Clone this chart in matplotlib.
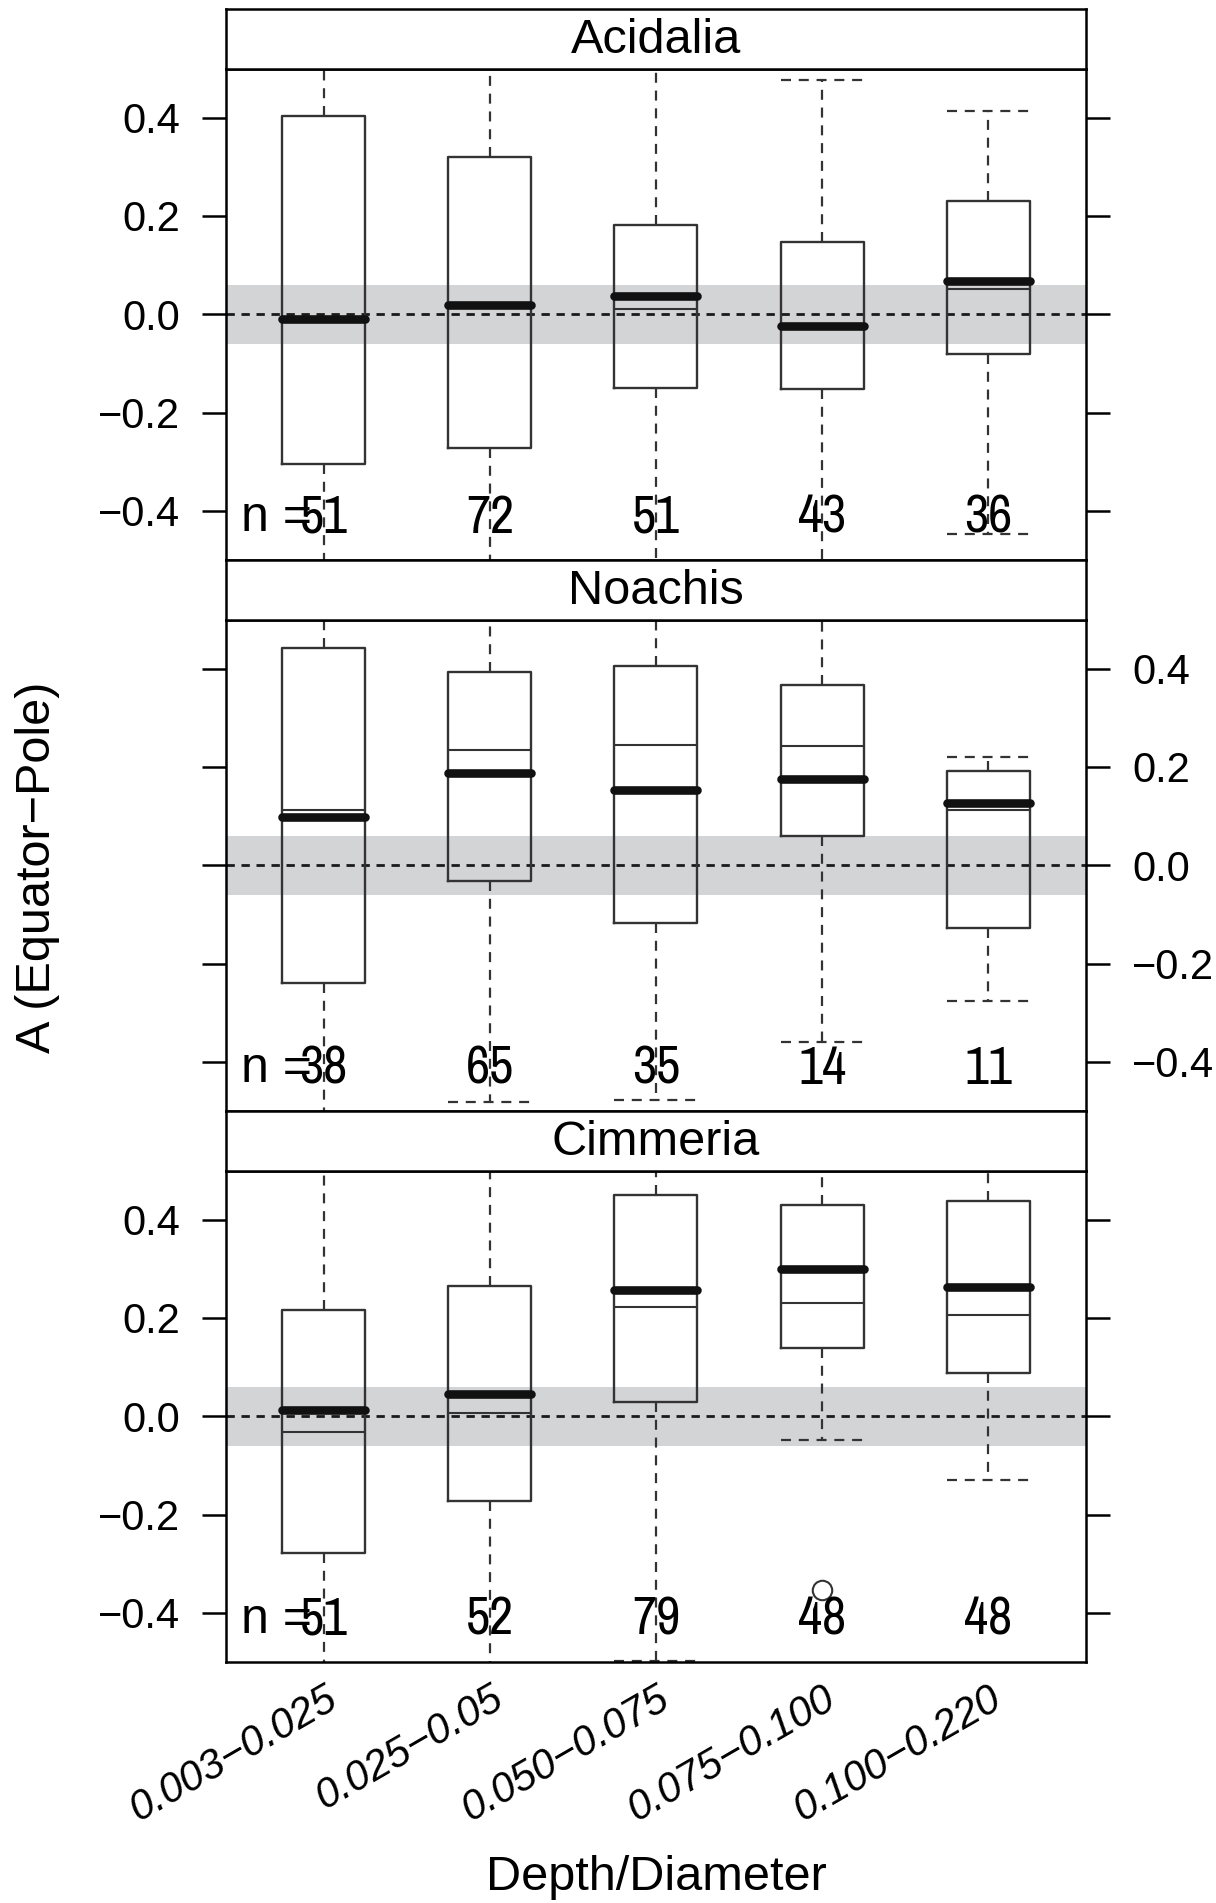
import numpy as np
import matplotlib
matplotlib.use("Agg")
import matplotlib.pyplot as plt
from matplotlib import font_manager

plt.rcParams['font.family'] = ['Liberation Sans', 'DejaVu Sans']

# categories and panel names
groups = ["0.003\u22120.025", "0.025\u22120.05", "0.050\u22120.075", "0.075\u22120.100", "0.100\u22120.220"]
regions = ["Acidalia", "Noachis", "Cimmeria"]

# box statistics (whiskers past +-0.5 run off the panel)
acid_q1 = [-0.305, -0.273, -0.150, -0.153, -0.081]
acid_q3 = [0.404, 0.319, 0.181, 0.148, 0.230]
acid_med = [-0.009, 0.018, 0.037, -0.023, 0.067]
acid_mean = [-0.009, 0.018, 0.010, -0.023, 0.051]
acid_lo = [-0.62, -0.62, -0.62, -0.62, -0.448]
acid_hi = [0.62, 0.62, 0.62, 0.476, 0.413]
acid_out = [[], [], [], [], []]
acid_n = [51, 72, 51, 43, 36]

noa_q1 = [-0.239, -0.033, -0.117, 0.059, -0.127]
noa_q3 = [0.441, 0.393, 0.406, 0.367, 0.192]
noa_med = [0.098, 0.187, 0.154, 0.176, 0.126]
noa_mean = [0.112, 0.235, 0.245, 0.242, 0.113]
noa_lo = [-0.62, -0.481, -0.477, -0.360, -0.276]
noa_hi = [0.62, 0.62, 0.62, 0.62, 0.220]
noa_out = [[], [], [], [], []]
noa_n = [38, 65, 35, 14, 11]

cim_q1 = [-0.279, -0.173, 0.029, 0.138, 0.089]
cim_q3 = [0.217, 0.265, 0.450, 0.429, 0.438]
cim_med = [0.012, 0.046, 0.256, 0.300, 0.262]
cim_mean = [-0.033, 0.006, 0.222, 0.230, 0.206]
cim_lo = [-0.62, -0.62, -0.497, -0.048, -0.129]
cim_hi = [0.62, 0.62, 0.62, 0.62, 0.62]
cim_out = [[], [], [], [-0.354], []]
cim_n = [51, 52, 79, 48, 48]

panels = [
    (acid_q1, acid_q3, acid_med, acid_mean, acid_lo, acid_hi, acid_out, acid_n),
    (noa_q1, noa_q3, noa_med, noa_mean, noa_lo, noa_hi, noa_out, noa_n),
    (cim_q1, cim_q3, cim_med, cim_mean, cim_lo, cim_hi, cim_out, cim_n),
]

# look for a condensed sans face for the count labels
narrow_file = None
cands = []
for f in font_manager.fontManager.ttflist:
    tag = (f.name + " " + str(f.stretch)).lower()
    if ('narrow' in tag or 'condensed' in tag) and f.style == 'normal' \
            and f.weight in (400, 'normal', 'regular', 'book'):
        cands.append(f)
cands.sort(key=lambda f: (0 if 'Liberation' in f.name else 1 if 'Narrow' in f.name else 2))
if cands:
    narrow_file = cands[0].fname


def nfont(size):
    if narrow_file:
        return font_manager.FontProperties(fname=narrow_file, size=size)
    return font_manager.FontProperties(family='Liberation Sans', size=size * 0.85)


W, H = 1216, 1903
fig = plt.figure(figsize=(W / 100, H / 100), dpi=100)

left = 225.7 / W
width = (1086.2 - 225.7) / W
plot_h = 491.5
strip_h = 59.5
pitch = 551.0
top0 = 68.5

edge = '#333333'
dash_w = dict(color=edge, lw=1.6, linestyle=(0, (4.5, 3.5)))
pos = np.arange(1, 6)

for i, (q1, q3, med, mean, lo, hi, out, n) in enumerate(panels):
    ptop = top0 + pitch * i
    ax = fig.add_axes([left, 1 - (ptop + plot_h) / H, width, plot_h / H])
    sax = fig.add_axes([left, 1 - ptop / H, width, strip_h / H])

    # strip
    sax.set_xticks([])
    sax.set_yticks([])
    for s in sax.spines.values():
        s.set_linewidth(1.8)
    sax.text(0.5, 0.47, regions[i], ha='center', va='center', fontsize=35,
             transform=sax.transAxes)

    ax.axhspan(-0.06, 0.06, color='#d3d4d6', lw=0, zorder=0)
    ax.axhline(0, color='#1a1a1a', lw=2.0, linestyle=(0, (3, 2.4)), zorder=1)

    stats = []
    for k in range(5):
        stats.append(dict(med=med[k], q1=q1[k], q3=q3[k], whislo=lo[k],
                          whishi=hi[k], mean=mean[k], fliers=out[k]))
    ax.bxp(stats, positions=pos, widths=0.5, capwidths=0.5,
           showmeans=True, meanline=True, patch_artist=False,
           boxprops=dict(color=edge, lw=1.7),
           whiskerprops=dash_w, capprops=dash_w,
           medianprops=dict(color='#111111', lw=6.2, solid_capstyle='round', zorder=4),
           meanprops=dict(color=edge, lw=1.5, linestyle='-'),
           flierprops=dict(marker='o', markersize=14, markerfacecolor='none',
                           markeredgecolor=edge, markeredgewidth=1.5))

    # sample sizes
    ax.text(0.5, -0.414, "n =", ha='left', va='center', fontsize=36)
    for k in range(5):
        ax.text(pos[k], -0.414, str(n[k]), ha='center', va='center',
                fontproperties=nfont(38))

    ax.set_xlim(0.41, 5.59)
    ax.set_ylim(-0.5, 0.5)
    yt = [-0.4, -0.2, 0.0, 0.2, 0.4]
    ax.set_yticks(yt)
    ax.set_yticklabels(["\u22120.4", "\u22120.2", "0.0", "0.2", "0.4"])
    ax.tick_params(axis='y', which='both', left=True, right=True, direction='out',
                   length=17, width=1.8, labelsize=30, pad=16,
                   labelleft=(i != 1), labelright=(i == 1))
    for s in ax.spines.values():
        s.set_linewidth(1.8)

    if i == 2:
        ax.set_xticks(pos)
        ax.set_xticklabels(groups, rotation=30, ha='right', rotation_mode='anchor',
                           fontsize=30, style='italic')
        ax.tick_params(axis='x', length=0, pad=12)
    else:
        ax.set_xticks([])

fig.text(0.031, 0.544, "A (Equator\u2212Pole)", rotation=90, ha='center', va='center',
         fontsize=35)
fig.text(0.54, 0.0134, "Depth/Diameter", ha='center', va='center', fontsize=35)

fig.savefig("out.png", dpi=100)
